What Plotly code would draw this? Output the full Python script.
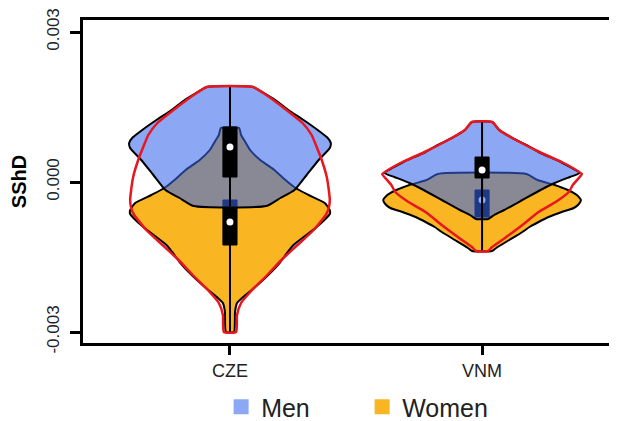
import plotly.graph_objects as go

countries = ["CZE", "VNM"]
tick_vals = [-0.003, 0.0, 0.003]
tick_text = ["-0.003", "0.000", "0.003"]

# Violin profiles: SShD levels (x 1e-3) and relative half-widths (1 = widest)
cze_men_y = [1.90, 1.80, 1.64, 1.44, 1.24, 1.04, 0.88, 0.78, 0.68, 0.44, 0.14, -0.16, -0.32, -0.48]
cze_men_w = [0.23, 0.32, 0.45, 0.58, 0.73, 0.87, 0.97, 1.00, 0.99, 0.88, 0.76, 0.64, 0.50, 0.36]

cze_women_y = [1.08, 0.94, 0.84, 0.64, 0.44, 0.24, 0.04, -0.12, -0.26, -0.42, -0.56, -0.64,
               -0.90, -1.26, -1.46, -1.60, -1.86, -2.10, -2.30, -2.42, -2.60, -3.00]
cze_women_w = [0.09, 0.11, 0.14, 0.20, 0.30, 0.44, 0.55, 0.65, 0.78, 0.94, 0.99, 0.99,
               0.86, 0.63, 0.55, 0.50, 0.38, 0.25, 0.13, 0.07, 0.05, 0.04]

cze_all_y = [1.90, 1.78, 1.64, 1.44, 1.18, 0.94, 0.70, 0.44, 0.10, -0.16, -0.36, -0.52, -0.66,
             -0.96, -1.26, -1.56, -1.86, -2.16, -2.42, -2.66, -3.00]
cze_all_w = [0.23, 0.33, 0.43, 0.56, 0.72, 0.81, 0.86, 0.91, 0.96, 0.98, 0.99, 0.98, 0.95,
             0.83, 0.67, 0.51, 0.37, 0.22, 0.11, 0.07, 0.06]

vnm_men_y = [1.20, 1.04, 0.88, 0.74, 0.60, 0.40, 0.28, 0.18, 0.10, -0.02, -0.16, -0.36, -0.56, -0.66, -0.74]
vnm_men_w = [0.10, 0.17, 0.30, 0.44, 0.56, 0.78, 0.89, 0.97, 0.87, 0.72, 0.58, 0.40, 0.22, 0.12, 0.06]

vnm_women_y = [0.16, 0.04, -0.06, -0.16, -0.26, -0.36, -0.44, -0.52, -0.60, -0.70, -0.80, -0.90,
               -1.00, -1.16, -1.32, -1.38]
vnm_women_w = [0.44, 0.55, 0.72, 0.85, 0.94, 0.98, 0.96, 0.91, 0.79, 0.66, 0.56, 0.47,
               0.40, 0.27, 0.14, 0.10]

vnm_all_y = [1.20, 1.04, 0.88, 0.60, 0.40, 0.28, 0.16, 0.08, -0.06, -0.20, -0.40, -0.60, -0.86,
             -1.10, -1.30, -1.38]
vnm_all_w = [0.10, 0.17, 0.30, 0.57, 0.79, 0.90, 0.99, 0.96, 0.90, 0.86, 0.73, 0.56, 0.40,
             0.24, 0.10, 0.06]

# Box statistics (x 1e-3): q1, median, q3
men_q1 = [0.10, 0.08]
men_med = [0.70, 0.24]
men_q3 = [1.10, 0.50]
women_q1 = [-1.26, -0.70]
women_med = [-0.80, -0.36]
women_q3 = [-0.36, -0.16]

SCALE = 1e-3
HALF = 0.40
BOXW = 0.028

men_fill = "rgba(53,102,237,0.57)"
women_fill = "#F9B522"
red = "#E8161E"


def outline(c, ys, ws):
    xr = [c + w * HALF for w in ws]
    xl = [c - w * HALF for w in ws]
    xs = xr + xl[::-1] + [xr[0]]
    yy = [y * SCALE for y in ys]
    ys2 = yy + yy[::-1] + [yy[0]]
    return xs, ys2


fig = go.Figure()

profiles = {
    "women": [(cze_women_y, cze_women_w), (vnm_women_y, vnm_women_w)],
    "men": [(cze_men_y, cze_men_w), (vnm_men_y, vnm_men_w)],
    "all": [(cze_all_y, cze_all_w), (vnm_all_y, vnm_all_w)],
}


def add_violin(c, ys, ws, fill):
    xs, yy = outline(c, ys, ws)
    fig.add_trace(go.Scatter(x=xs, y=yy, mode="lines", fill="toself", fillcolor=fill,
                             line=dict(color="black", width=2, shape="spline", smoothing=0.5),
                             showlegend=False, hoverinfo="skip"))


def add_box(c, ys, q1, med, q3):
    fig.add_trace(go.Scatter(x=[c, c], y=[min(ys) * SCALE, max(ys) * SCALE], mode="lines",
                             line=dict(color="black", width=2), showlegend=False, hoverinfo="skip"))
    fig.add_trace(go.Scatter(x=[c - BOXW, c + BOXW, c + BOXW, c - BOXW, c - BOXW],
                             y=[q1 * SCALE, q1 * SCALE, q3 * SCALE, q3 * SCALE, q1 * SCALE],
                             mode="lines", fill="toself", fillcolor="black",
                             line=dict(color="black", width=1), showlegend=False, hoverinfo="skip"))
    fig.add_trace(go.Scatter(x=[c], y=[med * SCALE], mode="markers",
                             marker=dict(color="white", size=7, line=dict(width=0)),
                             showlegend=False, hoverinfo="skip"))


for i in range(len(countries)):
    ys, ws = profiles["women"][i]
    add_violin(i, ys, ws, women_fill)
    add_box(i, ys, women_q1[i], women_med[i], women_q3[i])

for i in range(len(countries)):
    ys, ws = profiles["men"][i]
    add_violin(i, ys, ws, men_fill)
    add_box(i, ys, men_q1[i], men_med[i], men_q3[i])

for i in range(len(countries)):
    ys, ws = profiles["all"][i]
    xs, yy = outline(i, ys, ws)
    fig.add_trace(go.Scatter(x=xs, y=yy, mode="lines",
                             line=dict(color=red, width=2.5, shape="spline", smoothing=0.5),
                             showlegend=False, hoverinfo="skip"))

# legend entries
fig.add_trace(go.Scatter(x=[None], y=[None], mode="markers", name="Men",
                         marker=dict(symbol="square", size=15, color="#8CA8F5")))
fig.add_trace(go.Scatter(x=[None], y=[None], mode="markers", name="Women",
                         marker=dict(symbol="square", size=15, color=women_fill)))

fig.update_layout(
    width=617, height=421,
    margin=dict(l=75, r=0, t=12, b=86),
    paper_bgcolor="white", plot_bgcolor="white",
    font=dict(family="Liberation Sans, Arial, sans-serif", color="#222"),
    showlegend=True,
    legend=dict(orientation="h", x=0.515, xanchor="center", xref="paper",
                y=0.052, yanchor="middle", yref="container",
                font=dict(size=25, color="#222"), entrywidth=96, itemsizing="trace"),
    xaxis=dict(range=[-0.583, 1.567], tickvals=[0, 1], ticktext=countries, automargin=False,
               showline=True, linecolor="black", linewidth=3, mirror=True,
               ticks="outside", ticklen=9, tickwidth=2.5, tickcolor="black", ticklabelstandoff=0,
               tickfont=dict(size=18, color="#222"), showgrid=False, zeroline=False),
    yaxis=dict(range=[-0.00322, 0.00324], tickvals=tick_vals, ticktext=tick_text, automargin=False,
               tickangle=-90, showline=True, linecolor="black", linewidth=3,
               ticks="outside", ticklen=10, tickwidth=2.5, tickcolor="black", ticklabelstandoff=4,
               ticklabeloverflow="allow",
               tickfont=dict(size=17, color="#222"), showgrid=False, zeroline=False,
               title=dict(text="<b>SShD</b>", font=dict(size=20, color="black"), standoff=16)),
)

fig.write_html("out.html")
